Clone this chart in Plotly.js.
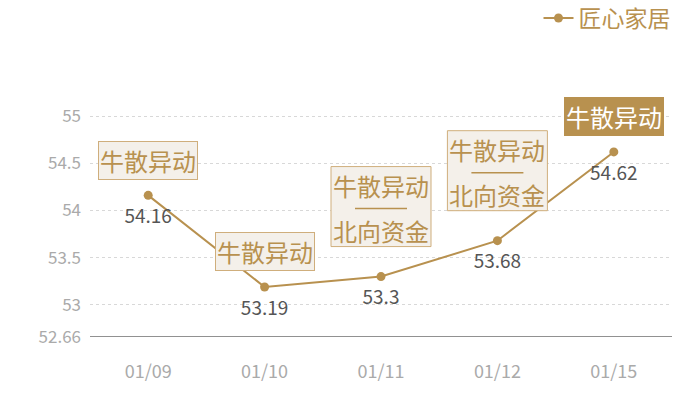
<!DOCTYPE html>
<html>
<head>
<meta charset="utf-8">
<script src="https://cdn.plot.ly/plotly-3.0.1.min.js"></script>
<style>
  html, body { margin: 0; padding: 0; background: #fff; }
  #chart { width: 700px; height: 400px; }
</style>
</head>
<body>
<div id="chart"></div>
<script>
// data
var dates = ['01/09', '01/10', '01/11', '01/12', '01/15'];
var prices = [54.16, 53.19, 53.3, 53.68, 54.62];
var tagTop = ['牛散异动', '牛散异动', '牛散异动', '牛散异动', '牛散异动'];
var tagBottom = ['', '', '北向资金', '北向资金', ''];
var seriesName = '匠心家居';
var yTicks = [52.66, 53, 53.5, 54, 54.5, 55, 55.17];
var yTickText = ['52.66', '53', '53.5', '54', '54.5', '55', ''];

var gold = '#b8914f';
var font = '"Noto Sans CJK SC", "Noto Sans", sans-serif';

var lineTrace = {
  x: dates,
  y: prices,
  name: seriesName,
  type: 'scatter',
  mode: 'lines+markers',
  line: {color: gold, width: 2},
  marker: {color: gold, size: 9},
  cliponaxis: false
};

// value labels; the invisible big marker only pushes the text down a bit
var labelTrace = {
  x: dates,
  y: prices,
  type: 'scatter',
  mode: 'markers+text',
  showlegend: false,
  text: prices.map(function (v) { return String(v); }),
  textposition: 'bottom center',
  textfont: {color: '#555', size: 19, family: font},
  marker: {color: 'rgba(0,0,0,0)', size: 20},
  cliponaxis: false
};

/* -----------------annotation boxes over each point----------------- */
var annotations = [];
var shapes = [{
  type: 'line', xref: 'paper', yref: 'y',
  x0: 0, x1: 1, y0: 52.66, y1: 52.66,
  line: {color: '#222', width: 1}
}];

function note(i, text, shift, extra) {
  var a = {
    x: dates[i], y: prices[i], xref: 'x', yref: 'y',
    text: text, showarrow: false,
    yanchor: 'middle', yshift: shift,
    font: {color: gold, size: 24, family: font}
  };
  for (var k in extra) a[k] = extra[k];
  annotations.push(a);
}
function pixelShape(i, type, x0, x1, y0, y1, style) {
  var s = {
    type: type, layer: 'above',
    xref: 'x', xsizemode: 'pixel', xanchor: dates[i], x0: x0, x1: x1,
    yref: 'y', ysizemode: 'pixel', yanchor: prices[i], y0: y0, y1: y1
  };
  for (var k in style) s[k] = style[k];
  shapes.push(s);
}

for (var i = 0; i < dates.length; i++) {
  var last = i === dates.length - 1;
  if (tagBottom[i]) {
    // box and rule as shapes, the two lines as plain text on top
    pixelShape(i, 'rect', -50, 50, 30, 110,
      {fillcolor: '#f4f0ea', line: {color: '#cfae7c', width: 1}});
    pixelShape(i, 'line', -26, 26, 68, 68,
      {line: {color: gold, width: 1.5}});
    note(i, tagTop[i], 91, {});
    note(i, tagBottom[i], 46, {});
  } else {
    note(i, tagTop[i], 35, {
      font: {color: last ? '#fff' : gold, size: 24, family: font},
      bgcolor: last ? gold : '#f4f0ea',
      bordercolor: last ? gold : '#cfae7c',
      borderwidth: 1, borderpad: 1
    });
  }
}

var layout = {
  width: 700,
  height: 400,
  margin: {l: 90, r: 28, t: 100, b: 63, autoexpand: false},
  paper_bgcolor: '#fff',
  plot_bgcolor: '#fff',
  font: {family: font},
  showlegend: true,
  legend: {
    orientation: 'h',
    xref: 'container',
    yref: 'container',
    x: 0.965,
    xanchor: 'right',
    y: 0.955,
    yanchor: 'middle',
    font: {color: gold, size: 23, family: font}
  },
  xaxis: {
    type: 'category',
    range: [-0.5, 4.5],
    showgrid: false,
    zeroline: false,
    showline: false,
    ticks: '',
    ticklabelstandoff: 22,
    tickfont: {color: '#aaa', size: 18, family: font}
  },
  yaxis: {
    range: [52.66, 55.17],
    tickmode: 'array',
    tickvals: yTicks,
    ticktext: yTickText,
    showgrid: true,
    gridcolor: '#d8d8d8',
    griddash: 'dot',
    zeroline: false,
    showline: false,
    ticklabelstandoff: 8,
    tickfont: {color: '#aaa', size: 17, family: font}
  },
  shapes: shapes,
  annotations: annotations
};

Plotly.newPlot('chart', [lineTrace, labelTrace], layout, {displayModeBar: false, staticPlot: true});
</script>
</body>
</html>
